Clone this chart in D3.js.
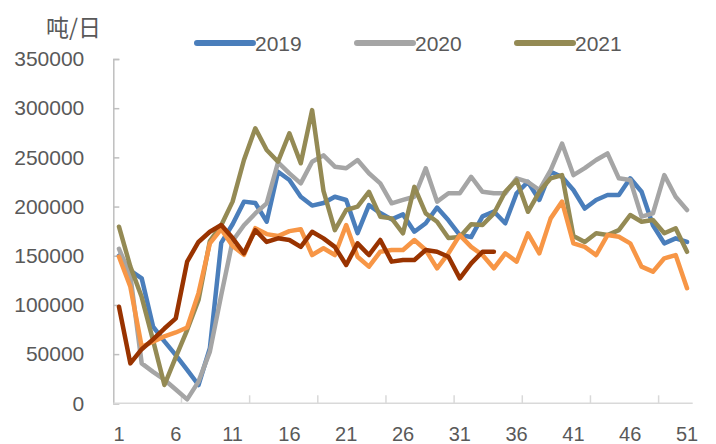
<!DOCTYPE html>
<html><head><meta charset="utf-8">
<script src="https://cdn.jsdelivr.net/npm/d3@7"></script>
<style>html,body{margin:0;padding:0;background:#fff;}svg{display:block;}</style>
</head><body>
<svg id="c" width="716" height="444"></svg>
<script>
const weeks = d3.range(1, 52);
const xTickLabels = [1, 6, 11, 16, 21, 26, 31, 36, 41, 46, 51];
const yTicks = [0, 50000, 100000, 150000, 200000, 250000, 300000, 350000];
const unitLabel = "吨/日";
const legendNames = ["2019", "2020", "2021"];

const s2019 = [150000,135000,127000,78000,63000,49000,34000,18600,56000,163000,182000,205000,203600,184600,235400,227000,210000,201000,203600,210000,206700,173000,201500,193400,187000,192000,174400,183000,199000,186000,171000,169000,190000,195000,183000,213500,225000,206700,235400,230000,216800,198000,206700,211700,211700,228700,215000,181000,162600,167700,164000];
const s2020 = [157000,130000,40600,32000,24000,14000,4000,22000,52500,110000,165000,181000,193000,203300,245000,233700,223600,245600,252000,240500,238900,247300,233800,223600,203300,206700,210000,238900,205000,213500,213500,230300,215000,213500,213500,228700,225000,216800,237000,264000,232000,239000,247300,254000,228700,227000,189700,193000,232000,210000,196500];
const s2021 = [179500,139000,108000,64000,18600,47000,74500,105000,165000,181000,205000,247300,279500,257500,245600,274500,244000,298000,216000,176000,196500,200000,215000,189700,188000,172800,220000,193000,184600,168000,169000,182000,181200,193000,215000,227000,194700,215000,228700,232000,170000,164000,172800,171000,176000,191400,184600,186300,172800,177900,154000];
const s2022 = [149000,118500,57500,62600,68000,72000,77000,112000,162600,177000,160000,151000,178000,172000,170000,175000,177000,150700,157600,150700,181200,149000,138900,154100,155800,155800,166000,155800,137200,152500,171000,159000,150700,137200,152500,144000,172800,152500,188000,205000,162600,159000,150700,171000,169300,162600,138900,133800,147400,150700,117000];
const s2023 = [98200,40600,55000,65000,76000,86400,144000,164000,174400,181200,168000,152500,176000,164000,167700,166000,159000,174400,167700,159000,140600,162600,150700,166000,144000,145700,145700,155800,154100,149000,127000,142300,154100,154100];

const series = [
  {name: "2019", values: s2019, color: "#4A7EBB"},
  {name: "2020", values: s2020, color: "#A5A5A5"},
  {name: "2021", values: s2021, color: "#948A54"},
  {name: "2022", values: s2022, color: "#F79646"},
  {name: "2023", values: s2023, color: "#993300"}
];

const svg = d3.select("#c");
const mLeft = 113.3, mRight = 692.7, mTop = 59, mBottom = 403.3;
const x = d3.scaleBand().domain(weeks).range([mLeft, mRight]).paddingInner(0).paddingOuter(0);
const y = d3.scaleLinear().domain([0, 350000]).range([mBottom, mTop]);
const font = "'Liberation Sans', Arial, sans-serif";
const txt = "#595959";

// Y axis
const yAxis = svg.append("g").attr("transform", `translate(${mLeft},0)`)
  .call(d3.axisLeft(y).tickValues(yTicks).tickSize(-6).tickPadding(29).tickFormat(d3.format("d")));
yAxis.select(".domain").attr("stroke", "#BFBFBF").attr("stroke-width", 1.5);
yAxis.selectAll(".tick line").attr("stroke", "#BFBFBF").attr("stroke-width", 1.5);
yAxis.selectAll(".tick text").attr("fill", txt).style("font-family", font).style("font-size", "21px");

// X axis
const tickWeeks = weeks.filter(w => (w - 1) % 6 === 0).slice(1);
const xAxisG = svg.append("g").attr("transform", `translate(0,${mBottom})`);
xAxisG.append("line").attr("x1", mLeft).attr("x2", mRight).attr("y1", 0).attr("y2", 0)
  .attr("stroke", "#D9D9D9").attr("stroke-width", 1.5);
xAxisG.selectAll("line.tk").data(tickWeeks).join("line").attr("class", "tk")
  .attr("x1", d => x(d)).attr("x2", d => x(d)).attr("y1", 0).attr("y2", -8)
  .attr("stroke", "#D9D9D9").attr("stroke-width", 1.5);
xAxisG.selectAll("text").data(xTickLabels).join("text")
  .attr("x", d => x(d) + x.bandwidth() / 2).attr("y", 38)
  .attr("text-anchor", "middle").attr("fill", txt)
  .style("font-family", font).style("font-size", "20px").text(d => d);

// Lines
const line = d3.line().x((d, i) => x(weeks[i]) + x.bandwidth() / 2).y(d => y(d));
svg.append("g").selectAll("path").data(series).join("path")
  .attr("d", d => line(d.values))
  .attr("fill", "none").attr("stroke", d => d.color).attr("stroke-width", 4.5)
  .attr("stroke-linejoin", "round").attr("stroke-linecap", "round");

// Unit label
svg.append("text").attr("x", 46).attr("y", 36).attr("fill", txt)
  .style("font-family", "'Noto Sans CJK SC', sans-serif").style("font-size", "23px").text(unitLabel);

// Legend
const legX = [197, 357, 517];
const leg = svg.append("g").selectAll("g").data(series.filter(s => legendNames.includes(s.name))).join("g")
  .attr("transform", (d, i) => `translate(${legX[i]},43)`);
leg.append("line").attr("x1", 0).attr("x2", 56).attr("y1", 0).attr("y2", 0)
  .attr("stroke", d => d.color).attr("stroke-width", 6).attr("stroke-linecap", "round");
leg.append("text").attr("x", 58).attr("y", 8).attr("fill", txt)
  .style("font-family", font).style("font-size", "21px").text(d => d.name);
</script>
</body></html>
